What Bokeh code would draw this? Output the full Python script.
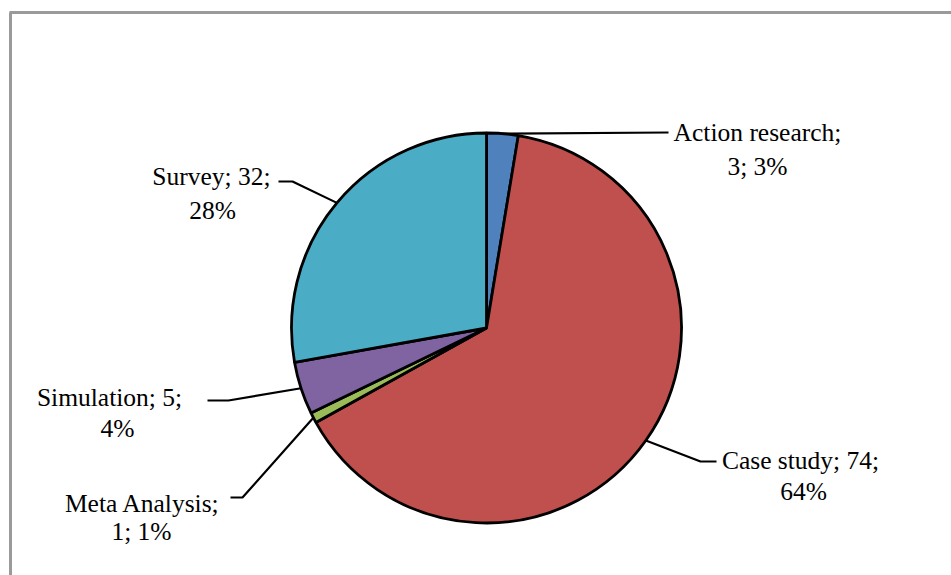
import math
from bokeh.plotting import figure
from bokeh.models import Range1d
from bokeh.core.properties import value
from bokeh.embed import file_html
from bokeh.resources import INLINE

# ---- data ----
categories = ["Action research", "Case study", "Meta Analysis", "Simulation", "Survey"]
counts = [3, 74, 1, 5, 32]
percents = [3, 64, 1, 4, 28]
colors = ["#4F81BD", "#C0504D", "#9BBB59", "#8064A2", "#4BACC6"]
# where each label breaks into two lines (True: the count goes on line 2)
count_on_line2 = [True, False, True, False, False]

W, H = 951, 575
def Y(y):
    return H - y

p = figure(width=W, height=H, output_backend="svg", toolbar_location=None,
           x_range=Range1d(0, W), y_range=Range1d(0, H), min_border=0)
p.axis.visible = False
p.grid.visible = False
p.outline_line_color = None
p.background_fill_color = "white"
p.border_fill_color = "white"

# outer frame (top and left edges visible)
p.segment(x0=[9, 10], y0=[Y(12), Y(12)], x1=[W + 5, 10], y1=[Y(12), -5],
          line_color="#9a9a9a", line_width=3)

# pie
cx, cy, r = 486, Y(327.5), 195
total = sum(counts)
starts, ends, mids = [], [], []
cum = 0
for c in counts:
    a0 = math.pi / 2 - 2 * math.pi * cum / total
    cum += c
    a1 = math.pi / 2 - 2 * math.pi * cum / total
    starts.append(a0)
    ends.append(a1)
    mids.append((a0 + a1) / 2)

p.wedge(x=cx, y=cy, radius=r, start_angle=starts, end_angle=ends,
        direction="clock", fill_color=colors, line_color="black", line_width=2.8)

# leader lines: from mid-arc to elbow, then short horizontal
elbows = [(668, 132), (700, 461), (242, 497), (228, 400), (292, 181)]
ends_h = [(668, 132), (716, 461), (230, 497), (207, 400), (278, 181)]
for m, e, h in zip(mids, elbows, ends_h):
    sx = cx + r * math.cos(m)
    sy = cy + r * math.sin(m)
    p.line(x=[sx, e[0], h[0]], y=[sy, Y(e[1]), Y(h[1])], line_color="black", line_width=2.2)

# labels
line1, line2 = [], []
for cat, n, pc, brk in zip(categories, counts, percents, count_on_line2):
    if brk:
        line1.append(f"{cat};")
        line2.append(f"{n}; {pc}%")
    else:
        line1.append(f"{cat}; {n};")
        line2.append(f"{pc}%")

l1_pos = [(757, 132), (800, 460), (142, 503), (109, 397), (211, 176)]
l2_pos = [(757, 166), (803, 491), (141, 531), (117, 428), (212, 210)]

font = value("Liberation Serif")
p.text(x=[q[0] for q in l1_pos], y=[Y(q[1]) for q in l1_pos], text=line1,
       text_font=font, text_font_size="25.5px", text_align="center",
       text_baseline="alphabetic", text_color="black")
p.text(x=[q[0] for q in l2_pos], y=[Y(q[1]) for q in l2_pos], text=line2,
       text_font=font, text_font_size="25.5px", text_align="center",
       text_baseline="alphabetic", text_color="black")

open("out.html", "w").write(file_html(p, INLINE))
